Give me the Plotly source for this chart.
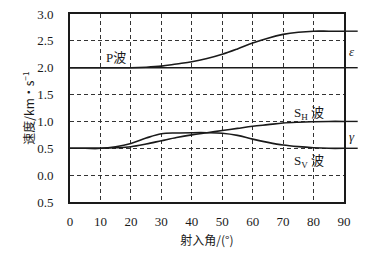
import plotly.graph_objects as go

angles = [0, 5, 10, 15, 20, 25, 30, 35, 40, 45, 50, 55, 60, 65, 70, 75, 80, 85, 90]
p_wave = [2.0, 2.0, 2.0, 2.0, 2.0, 2.01, 2.03, 2.07, 2.11, 2.17, 2.25, 2.35, 2.46, 2.55, 2.62, 2.66, 2.68, 2.68, 2.68]
sh_wave = [0.5, 0.5, 0.5, 0.51, 0.53, 0.58, 0.64, 0.70, 0.75, 0.79, 0.83, 0.87, 0.91, 0.94, 0.97, 0.985, 0.995, 1.0, 1.0]
sv_wave = [0.5, 0.5, 0.5, 0.53, 0.59, 0.69, 0.77, 0.785, 0.79, 0.79, 0.78, 0.74, 0.67, 0.61, 0.56, 0.53, 0.51, 0.5, 0.5]

x_ticks = [0, 10, 20, 30, 40, 50, 60, 70, 80, 90]
x_ticktext = ["0", "10", "20", "30", "40", "50", "60", "70", "80", "90"]
y_ticks = [-0.5, 0.0, 0.5, 1.0, 1.5, 2.0, 2.5, 3.0]
y_ticktext = ["0.5", "0.0", "0.5", "1.0", "1.5", "2.0", "2.5", "3.0"]
ref_levels = [2.68, 2.0, 1.0, 0.5]

num_font = "Liberation Serif"
cjk_font = "Noto Sans CJK SC"
ink = "#1a1a1a"

fig = go.Figure()
for vals in (p_wave, sh_wave, sv_wave):
    fig.add_trace(go.Scatter(x=angles, y=vals, mode="lines",
                             line=dict(color=ink, width=1.6, shape="spline"),
                             showlegend=False, hoverinfo="skip"))

shapes = []
shapes.append(dict(type="line", xref="x", yref="y", x0=0, x1=90, y0=2.0, y1=2.0,
                   line=dict(color=ink, width=1.6)))
for lv in ref_levels:
    shapes.append(dict(type="line", xref="paper", yref="y", x0=1.0, x1=1.05, y0=lv, y1=lv,
                       line=dict(color=ink, width=1.4)))

cjk = "<span style='font-family:Noto Sans CJK SC'>波</span>"
annotations = [
    dict(x=15, y=2.2, xref="x", yref="y", text="P" + cjk,
         showarrow=False, font=dict(family=num_font, size=13, color=ink)),
    dict(x=78.5, y=1.18, xref="x", yref="y", text="S<sub>H</sub> " + cjk,
         showarrow=False, font=dict(family=num_font, size=13, color=ink)),
    dict(x=78.5, y=0.28, xref="x", yref="y", text="S<sub>V</sub> " + cjk,
         showarrow=False, font=dict(family=num_font, size=13, color=ink)),
    dict(x=1.03, y=2.3, xref="paper", yref="y", text="<i>ε</i>", showarrow=False,
         xanchor="center", font=dict(family=num_font, size=13, color=ink)),
    dict(x=1.03, y=0.72, xref="paper", yref="y", text="<i>γ</i>", showarrow=False,
         xanchor="center", font=dict(family=num_font, size=13, color=ink)),
]

fig.update_layout(
    width=363, height=245,
    margin=dict(l=62, r=27, t=6, b=51),
    paper_bgcolor="white", plot_bgcolor="white",
    font=dict(family=num_font, size=13, color=ink),
    shapes=shapes, annotations=annotations,
    xaxis=dict(range=[0, 90], tickvals=x_ticks, ticktext=x_ticktext, showgrid=True, gridcolor="#333",
               griddash="4px,3px", gridwidth=1, zeroline=False, automargin=False,
               showline=True, linecolor=ink, linewidth=1.8, mirror=True,
               ticks="outside", ticklen=6, tickcolor="rgba(0,0,0,0)",
               ticklabeloverflow="allow",
               tickfont=dict(family=num_font, size=13, color=ink),
               title=dict(text="射入角/(°)", font=dict(family=cjk_font, size=12, color=ink),
                          standoff=9)),
    yaxis=dict(range=[-0.5, 3.0], tickvals=y_ticks, ticktext=y_ticktext, showgrid=True,
               gridcolor="#333", griddash="4px,3px", gridwidth=1, zeroline=False, automargin=False,
               showline=True, linecolor=ink, linewidth=1.8, mirror=True,
               ticks="outside", ticklen=12, tickcolor="rgba(0,0,0,0)",
               ticklabeloverflow="allow",
               tickfont=dict(family=num_font, size=13, color=ink),
               title=dict(text="速度/km·s<sup>−1</sup>", font=dict(family=cjk_font, size=12, color=ink),
                          standoff=0)),
)

fig.write_html("out.html")
